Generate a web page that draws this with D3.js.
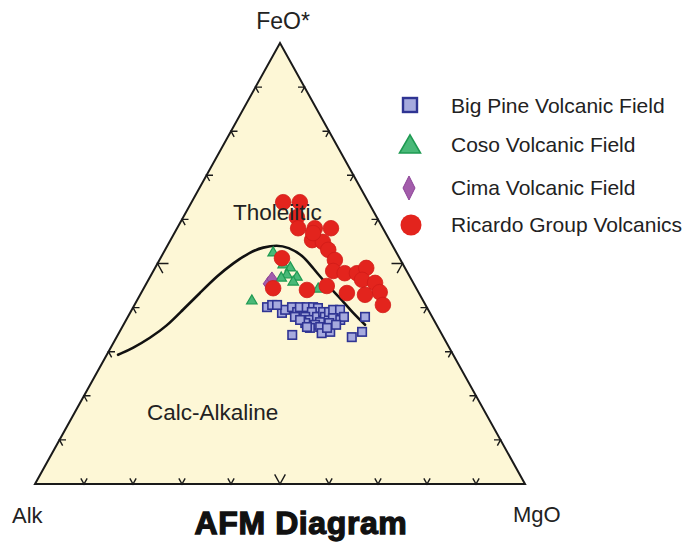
<!DOCTYPE html>
<html>
<head>
<meta charset="utf-8">
<script src="https://cdn.jsdelivr.net/npm/d3@7"></script>
<style>
  html, body { margin: 0; padding: 0; background: #ffffff; }
  svg { display: block; font-family: "Liberation Sans", Arial, sans-serif; }
</style>
</head>
<body>
<svg id="chart" width="700" height="542"></svg>
<script>
// Samples as [Alk, FeO*, MgO] in weight percent (normalised to 100)
const bigPine = [
  [32.6, 40.1, 27.3], [31.3, 40.6, 28.1], [30.2, 38.8, 31.0], [29.2, 39.5, 31.3],
  [27.5, 40.1, 32.4], [27.0, 39.0, 34.0], [25.9, 40.1, 34.0], [24.5, 40.1, 35.4],
  [23.2, 40.1, 36.7], [22.3, 39.9, 37.8], [24.0, 39.0, 37.0], [28.0, 37.9, 34.1],
  [25.9, 37.9, 36.2], [25.3, 37.2, 37.5], [23.5, 37.9, 38.6], [21.7, 39.0, 39.3],
  [21.9, 37.9, 40.2], [20.5, 39.0, 40.5], [19.4, 39.5, 41.1], [18.0, 39.5, 42.5],
  [20.4, 37.6, 42.0], [23.5, 36.7, 39.8], [26.6, 36.5, 36.9], [24.8, 36.1, 39.1],
  [26.2, 35.4, 38.4], [24.0, 35.6, 40.4], [21.7, 36.5, 41.8], [19.1, 37.2, 43.7],
  [24.4, 34.2, 41.4], [22.5, 34.5, 43.0], [30.6, 33.8, 35.6], [18.7, 33.3, 48.0],
  [16.0, 34.5, 49.5], [13.7, 37.9, 48.4], [18.0, 37.9, 44.1], [27.3, 37.2, 35.5],
  [26.7, 35.6, 37.7], [22.7, 35.4, 41.9], [30.3, 40.6, 29.1], [20.5, 36.1, 43.4]
];
const coso = [
  [25.2, 52.4, 22.4], [24.5, 49.7, 25.8], [23.4, 49.0, 27.6], [24.9, 47.4, 27.7],
  [23.1, 46.9, 30.0], [24.4, 45.8, 29.8], [35.0, 41.5, 23.5], [20.1, 44.2, 35.7],
  [26.4, 46.7, 26.9]
];
const cima = [
  [29.7, 45.4, 24.9], [28.4, 46.5, 25.1]
];
const ricardo = [
  [17.4, 63.9, 18.7], [14.0, 63.9, 22.1], [16.3, 60.5, 23.2], [17.3, 58.0, 24.7],
  [13.9, 58.0, 28.1], [10.6, 58.0, 31.4], [15.8, 55.3, 28.9], [13.8, 54.9, 31.3],
  [13.6, 53.1, 33.3], [13.4, 50.8, 35.8], [15.0, 48.3, 36.7], [12.9, 47.8, 39.3],
  [10.4, 47.8, 41.8], [7.9, 49.0, 43.1], [10.1, 46.3, 43.6], [7.8, 45.6, 46.6],
  [7.9, 43.5, 48.6], [8.7, 40.6, 50.7], [11.2, 42.9, 45.9], [14.7, 43.3, 42.0],
  [18.0, 44.9, 37.1], [22.5, 44.0, 33.5], [24.0, 51.2, 24.8], [29.2, 44.4, 26.4],
  [14.8, 56.9, 28.3]
];
// Tholeiitic / calc-alkaline dividing line
const divideLine = [
  [68.4, 29.3, 2.3], [64.6, 30.8, 4.6], [60.0, 33.1, 6.9], [55.2, 35.8, 9.0],
  [50.1, 39.5, 10.4], [44.7, 43.3, 12.0], [39.2, 47.2, 13.6], [34.5, 50.1, 15.4],
  [29.8, 52.6, 17.6], [26.6, 53.7, 19.7], [23.5, 54.2, 22.3], [21.5, 53.7, 24.8],
  [19.4, 51.9, 28.7], [18.8, 49.0, 32.2], [18.1, 46.3, 35.6], [17.4, 44.0, 38.6],
  [16.5, 41.7, 41.8], [15.8, 39.0, 45.2], [14.6, 36.1, 49.3]
];
const tickFractions = [0.1, 0.2, 0.3, 0.4, 0.5, 0.6, 0.7, 0.8, 0.9];
const vertexLabels = ["Alk", "FeO*", "MgO"];
const fieldLabels = ["Tholeiitic", "Calc-Alkaline"];
const seriesNames = ["Big Pine Volcanic Field", "Coso Volcanic Field", "Cima Volcanic Field", "Ricardo Group Volcanics"];
const title = "AFM Diagram";

const svg = d3.select("#chart");

// Cartesian frame: Alk at (0,0), MgO at (1,0), FeO* at (0.5,1)
const x = d3.scaleLinear().domain([0, 1]).range([35, 525]);
const y = d3.scaleLinear().domain([0, 1]).range([484, 43]);
function project(d) {
  const s = d[0] + d[1] + d[2];
  const f = d[1] / s, m = d[2] / s;
  return [x(m + 0.5 * f), y(f)];
}
const A = project([100, 0, 0]), F = project([0, 100, 0]), M = project([0, 0, 100]);

// Triangle
svg.append("path")
  .attr("d", d3.line()([A, F, M]) + "Z")
  .attr("fill", "#fdf7d6")
  .attr("stroke", "#1a1a1a")
  .attr("stroke-width", 2)
  .attr("stroke-linejoin", "miter");

// Chevron ticks along each edge, opening towards the interior
function unit(p, q) {
  const dx = q[0] - p[0], dy = q[1] - p[1], l = Math.hypot(dx, dy);
  return [dx / l, dy / l];
}
const edges = [
  { from: A, to: M, d1: unit(A, F), d2: unit(M, F) },
  { from: A, to: F, d1: unit(A, M), d2: unit(F, M) },
  { from: F, to: M, d1: unit(M, A), d2: unit(F, A) }
];
const tickG = svg.append("g").attr("fill", "none").attr("stroke", "#1a1a1a").attr("stroke-width", 1.4);
edges.forEach(e => {
  tickFractions.forEach(t => {
    const p = [e.from[0] + t * (e.to[0] - e.from[0]), e.from[1] + t * (e.to[1] - e.from[1])];
    const L = t === 0.5 ? 11 : 6.5;
    tickG.append("path").attr("d", d3.line()([
      [p[0] + L * e.d1[0], p[1] + L * e.d1[1]], p, [p[0] + L * e.d2[0], p[1] + L * e.d2[1]]
    ]));
  });
});

// Dividing curve (smoothed B-spline through the boundary samples)
svg.append("path")
  .attr("d", d3.line().curve(d3.curveBasis)(divideLine.map(project)))
  .attr("fill", "none")
  .attr("stroke", "#111")
  .attr("stroke-width", 2.6)
  .attr("stroke-linecap", "round");

// Big Pine squares
const sq = 8.5;
svg.append("g").selectAll("rect").data(bigPine).join("rect")
  .attr("x", d => project(d)[0] - sq / 2)
  .attr("y", d => project(d)[1] - sq / 2)
  .attr("width", sq).attr("height", sq)
  .attr("fill", "#a6aade").attr("stroke", "#2f3493").attr("stroke-width", 1.6);

// Coso triangles
svg.append("g").selectAll("path").data(coso).join("path")
  .attr("transform", d => `translate(${project(d)})`)
  .attr("d", d3.symbol(d3.symbolTriangle, 48)())
  .attr("fill", "#49b978").attr("stroke", "#1e9a52").attr("stroke-width", 1.2);

// Cima diamonds
const diamond = "M0,-7L5,0L0,7L-5,0Z";
svg.append("g").selectAll("path").data(cima).join("path")
  .attr("transform", d => `translate(${project(d)})`)
  .attr("d", diamond)
  .attr("fill", "#a35dab").attr("stroke", "#8c4397").attr("stroke-width", 1);

// Ricardo circles
svg.append("g").selectAll("circle").data(ricardo).join("circle")
  .attr("cx", d => project(d)[0]).attr("cy", d => project(d)[1]).attr("r", 7.8)
  .attr("fill", "#e3241d").attr("stroke", "#d01c18").attr("stroke-width", 0.8);

// Vertex labels
svg.append("text").attr("x", F[0] + 3).attr("y", 29).attr("text-anchor", "middle")
  .attr("font-size", 23).attr("fill", "#222").text(vertexLabels[1]);
svg.append("text").attr("x", 12).attr("y", 523).attr("font-size", 22).attr("fill", "#222").text(vertexLabels[0]);
svg.append("text").attr("x", 513).attr("y", 522).attr("font-size", 22).attr("fill", "#222").text(vertexLabels[2]);

// Field labels
svg.append("text").attr("x", 233).attr("y", 220).attr("font-size", 22.5).attr("fill", "#222").text(fieldLabels[0]);
svg.append("text").attr("x", 147).attr("y", 420).attr("font-size", 22.5).attr("fill", "#222").text(fieldLabels[1]);

// Title
svg.append("text").attr("x", 301).attr("y", 534).attr("text-anchor", "middle")
  .attr("font-size", 32).attr("font-weight", "bold").attr("fill", "#111")
  .attr("stroke", "#111").attr("stroke-width", 1.3).attr("letter-spacing", 0.6).text(title);

// Legend
const legendY = [113, 152, 195, 232];
const leg = svg.append("g");
leg.append("rect").attr("x", 403).attr("y", 98).attr("width", 14).attr("height", 14)
  .attr("fill", "#a6aade").attr("stroke", "#2f3493").attr("stroke-width", 2.4);
leg.append("path").attr("transform", "translate(410,147)").attr("d", d3.symbol(d3.symbolTriangle, 190)())
  .attr("fill", "#49b978").attr("stroke", "#1e9a52").attr("stroke-width", 1.6);
leg.append("path").attr("transform", "translate(409,188)").attr("d", "M0,-12L6,0L0,12L-6,0Z")
  .attr("fill", "#a35dab").attr("stroke", "#8c4397").attr("stroke-width", 1);
leg.append("circle").attr("cx", 411).attr("cy", 225).attr("r", 10.5).attr("fill", "#e3241d");
seriesNames.forEach((s, i) => {
  leg.append("text").attr("x", 451).attr("y", legendY[i]).attr("font-size", 21).attr("fill", "#222").text(s);
});
</script>
</body>
</html>
